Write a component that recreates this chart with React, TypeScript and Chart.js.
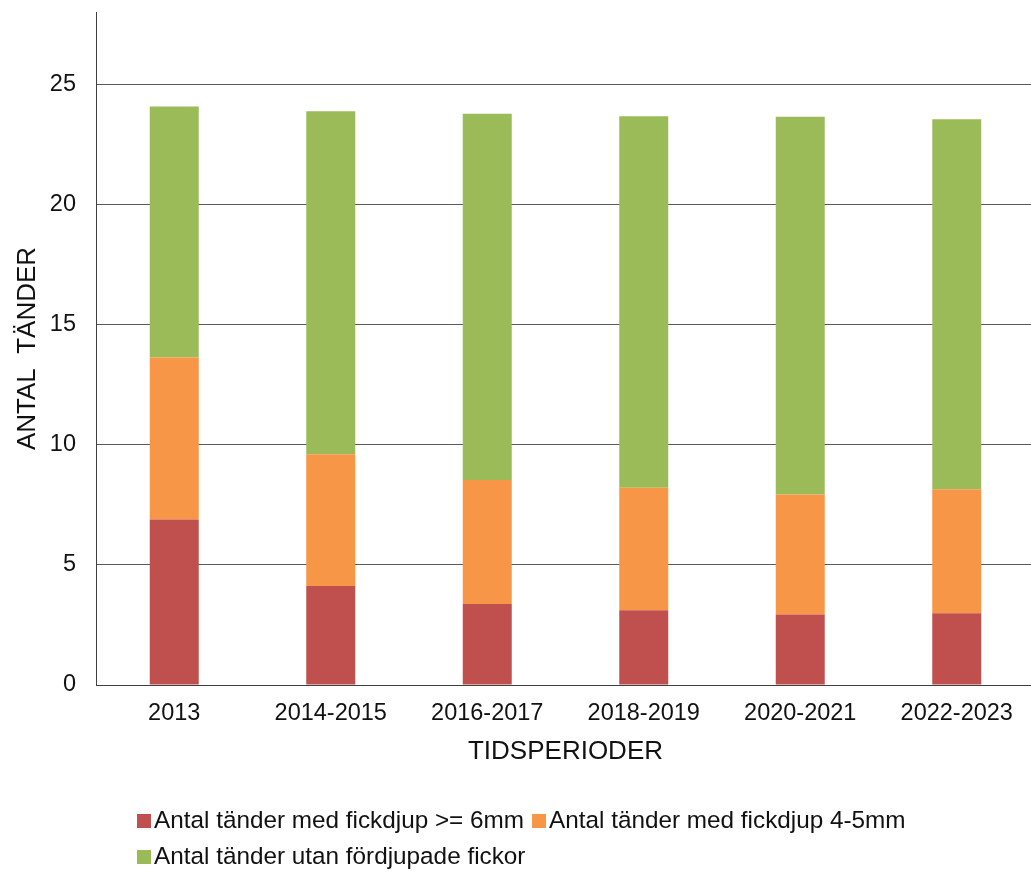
import React, { useEffect, useRef } from "react";
import { Chart, registerables } from "chart.js";

Chart.register(...registerables);

const categories = ["2013", "2014-2015", "2016-2017", "2018-2019", "2020-2021", "2022-2023"];
const deepPockets = [6.89, 4.12, 3.37, 3.11, 2.93, 2.99];
const mediumPockets = [6.74, 5.48, 5.16, 5.1, 5.0, 5.15];
const noPockets = [10.44, 14.27, 15.24, 15.45, 15.71, 15.4];
const seriesLabels = [
  "Antal tänder med fickdjup >= 6mm",
  "Antal tänder med fickdjup 4-5mm",
  "Antal tänder utan fördjupade fickor",
];
const seriesColors = ["#C0504D", "#F79646", "#9BBB59"];
const yTitle = "ANTAL  TÄNDER";
const xTitle = "TIDSPERIODER";

const FONT = '"Liberation Sans", Arial, sans-serif';
const TEXT = "#111111";

const legendPlugin = {
  id: "customLegend",
  afterDraw(chart: any) {
    const ctx = chart.ctx;
    ctx.save();
    ctx.font = `24.3px ${FONT}`;
    ctx.textBaseline = "middle";
    ctx.textAlign = "left";
    const rows = [[0, 1], [2]];
    const rowY = [821, 857];
    const box = 14;
    rows.forEach((row, ri) => {
      let x = 137;
      row.forEach((i) => {
        const ds = chart.data.datasets[i];
        ctx.fillStyle = ds.backgroundColor;
        ctx.fillRect(x, rowY[ri] - box / 2, box, box);
        x += box + 3;
        ctx.fillStyle = TEXT;
        ctx.fillText(ds.label, x, rowY[ri]);
        x += ctx.measureText(ds.label).width + 8;
      });
    });
    ctx.restore();
  },
};

export default function App() {
  const ref = useRef<HTMLCanvasElement>(null);
  useEffect(() => {
    if (!ref.current) return;
    const data = [deepPockets, mediumPockets, noPockets];
    const chart = new Chart(ref.current, {
      type: "bar",
      data: {
        labels: categories,
        datasets: data.map((d, i) => ({
          label: seriesLabels[i],
          data: d,
          backgroundColor: seriesColors[i],
          borderWidth: 0,
          stack: "s",
          barPercentage: 0.313,
          categoryPercentage: 1,
        })),
      },
      options: {
        animation: false,
        responsive: true,
        maintainAspectRatio: false,
        layout: { padding: { left: 0, right: 5, top: 12, bottom: 100 } },
        plugins: {
          legend: { display: false },
          tooltip: { enabled: false },
        },
        scales: {
          x: {
            stacked: true,
            grid: { display: false, drawTicks: false },
            border: { display: true, color: "#404040", width: 1 },
            ticks: {
              color: TEXT,
              font: { family: FONT, size: 23.5 },
              padding: 14,
              maxRotation: 0,
              autoSkip: false,
            },
            title: {
              display: true,
              text: xTitle,
              color: TEXT,
              font: { family: FONT, size: 26 },
              padding: { top: 0, bottom: 6 },
            },
            afterFit: (s: any) => {
              s.height = 88;
              s.paddingLeft = 0;
              s.paddingRight = 0;
            },
          },
          y: {
            stacked: true,
            min: 0,
            max: 28,
            ticks: {
              stepSize: 5,
              color: TEXT,
              font: { family: FONT, size: 23.5 },
              padding: 20,
            },
            afterBuildTicks: (s: any) => {
              s.ticks = s.ticks.filter((t: any) => t.value % 5 === 0);
            },
            grid: { color: "#595959", lineWidth: 1, drawTicks: false },
            border: { display: true, color: "#404040", width: 1 },
            title: {
              display: true,
              text: yTitle,
              color: TEXT,
              font: { family: FONT, size: 26 },
              padding: { top: 12, bottom: 0 },
            },
            afterFit: (s: any) => {
              s.width = 96;
              s.paddingTop = 0;
              s.paddingBottom = 0;
            },
          },
        },
      },
      plugins: [legendPlugin],
    });
    return () => chart.destroy();
  }, []);

  return (
    <div
      style={{
        position: "fixed",
        left: 0,
        top: 0,
        width: 1031,
        height: 873,
        overflow: "hidden",
        background: "#fff",
      }}
    >
      <div style={{ position: "relative", width: 1040, height: 873 }}>
        <canvas ref={ref} />
      </div>
    </div>
  );
}
